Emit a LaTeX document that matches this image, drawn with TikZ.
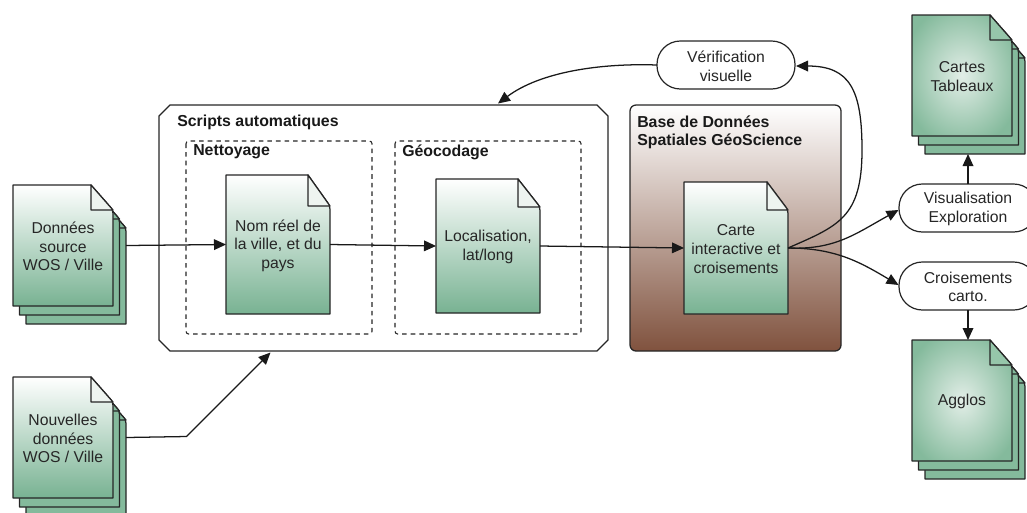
\documentclass[tikz,border=0pt]{standalone}
\usepackage{fontspec}
\setmainfont{Liberation Sans}
\usetikzlibrary{arrows.meta}
\definecolor{docgreen}{RGB}{120,178,146}
\definecolor{stackgreen}{RGB}{132,186,156}
\definecolor{foldpale}{RGB}{238,244,240}
\definecolor{foldgreen}{RGB}{150,198,170}
\definecolor{brownend}{RGB}{128,82,62}
\definecolor{inkline}{RGB}{38,38,38}
\definecolor{glowcentre}{RGB}{226,238,231}
\definecolor{glowedge}{RGB}{132,186,156}
\pgfdeclareradialshading{docglow}{\pgfpoint{0bp}{0bp}}{color(0bp)=(glowcentre); color(30bp)=(glowedge); color(50bp)=(glowedge)}
\tikzset{
  sheetline/.style={draw=inkline,line width=0.95pt,line join=round},
  sheetlinear/.style={sheetline,top color=white,bottom color=docgreen},
  sheetradial/.style={sheetline,shading=docglow},
  sheetback/.style={sheetline,fill=stackgreen},
  foldlin/.style={sheetline,fill=foldpale},
  foldrad/.style={sheetline,fill=foldgreen},
  doctext/.style={font=\fontsize{11.8pt}{13.9pt}\selectfont,text=black!85,align=center,inner sep=0pt,outer sep=0pt},
  titletext/.style={font=\bfseries\fontsize{11.9pt}{13.6pt}\selectfont,text=black!90,align=left,inner sep=0pt,anchor=west},
  pill/.style={draw=inkline,line width=0.9pt,fill=white,rounded corners=17.5pt,minimum width=103.5pt,minimum height=36pt,outer sep=0pt},
  dashbox/.style={draw=black!85,line width=0.8pt,dash pattern=on 3.4pt off 3pt,rounded corners=2pt},
  link/.style={draw=black!90,line width=0.95pt,-{Triangle[length=9pt,width=8pt]}},
}
\newcommand{\sheetat}[8]{%
  \path[#7] (#1,#2) -- (#5,#2) [rounded corners=2.5pt] -- (#3,#6) [sharp corners] -- (#3,#4) -- (#1,#4) -- cycle;
  \path[#8] (#5,#2) -- (#5,#6) -- (#3,#6) -- cycle;
}
\newcommand{\sheetnode}[6]{%
  \pgfmathsetmacro{\cxx}{(#2+#4)/2}\pgfmathsetmacro{\cyy}{(#3+#5)/2}%
  \pgfmathsetmacro{\www}{(#4-#2)*0.75}\pgfmathsetmacro{\hhh}{(#5-#3)*0.75}%
  \node[inner sep=0pt,outer sep=0pt,minimum width=\www pt,minimum height=\hhh pt] (#1) at (\cxx,\cyy) {};
  \node[doctext] (#1-text) at ([yshift=-0.8pt]#1.center) {#6};
}
\newcommand{\pillnode}[4]{%
  \node[pill] (#1) at (#2,#3) {};
  \node[doctext] (#1-text) at ([yshift=-0.8pt]#1.center) {#4};
}
\newcommand{\sheetstack}[6]{%
  \pgfmathsetmacro{\xa}{#2}\pgfmathsetmacro{\ya}{#3}%
  \pgfmathsetmacro{\xb}{#2+100}\pgfmathsetmacro{\yb}{#3+121}%
  \pgfmathsetmacro{\fx}{#2+78}\pgfmathsetmacro{\fy}{#3+25}%
  \pgfmathsetmacro{\xc}{#2+13}\pgfmathsetmacro{\yc}{#3+18}%
  \pgfmathsetmacro{\xd}{#2+113}\pgfmathsetmacro{\yd}{#3+139}%
  \pgfmathsetmacro{\xe}{#2+91}\pgfmathsetmacro{\ye}{#3+43}%
  \sheetat{\xc}{\yc}{\xd}{\yd}{\xe}{\ye}{sheetback}{sheetback}
  \pgfmathsetmacro{\xc}{#2+6.5}\pgfmathsetmacro{\yc}{#3+9}%
  \pgfmathsetmacro{\xdd}{#2+106.5}\pgfmathsetmacro{\ydd}{#3+130}%
  \pgfmathsetmacro{\xe}{#2+84.5}\pgfmathsetmacro{\ye}{#3+34}%
  \sheetat{\xc}{\yc}{\xdd}{\ydd}{\xe}{\ye}{sheetback}{sheetback}
  \sheetat{\xa}{\ya}{\xb}{\yb}{\fx}{\fy}{#5}{#6}
  \pgfmathsetmacro{\xc}{#2+13}\pgfmathsetmacro{\yc}{#3+18}%
  \sheetnode{#1-back}{\xc}{\yc}{\xd}{\yd}{}
  \sheetnode{#1}{\xa}{\ya}{\xb}{\yb}{#4}
}
\begin{document}
\begin{tikzpicture}[x=0.75pt,y=-0.75pt]
\useasboundingbox (0,0) rectangle (1027,512);
\clip (0,0) rectangle (1027,512);

% containers
\path[draw=inkline,line width=0.9pt,fill=white] (170,105) -- (597,105) -- (608,116) -- (608,340) -- (597,351) -- (170,351) -- (159,340) -- (159,116) -- cycle;
\node[inner sep=0pt,outer sep=0pt,minimum width=336.75pt,minimum height=184.5pt] (scripts) at (383.5,228) {};
\node[titletext] (scriptst) at (177,122) {Scripts automatiques};
\path[dashbox] (186,141) rectangle (372,334);
\node[titletext] (nett) at (193,152) {Nettoyage};
\path[dashbox] (395,141) rectangle (581,334);
\node[titletext] (geoc) at (402,152) {Géocodage};
\path[draw=inkline,line width=0.95pt,rounded corners=4.5pt,top color=white,bottom color=brownend] (630,105) rectangle (841,351);
\node[titletext] (baset) at (637,132.5) {Base de Données\\Spatiales GéoScience};

% documents
\sheetat{226}{175}{330}{314}{308}{206}{sheetlinear}{foldlin}
\sheetnode{nom}{226}{175}{330}{314}{Nom réel de\\la ville, et du\\pays}
\sheetat{436}{179}{540}{313}{518}{207}{sheetlinear}{foldlin}
\sheetnode{loc}{436}{179}{540}{313}{Localisation,\\lat/long}
\sheetat{684}{182}{788}{314}{767}{210}{sheetlinear}{foldlin}
\sheetnode{carte}{684}{182}{788}{314}{Carte\\interactive et\\croisements}

% stacks
\sheetstack{source}{13}{185}{Données\\source\\WOS / Ville}{sheetlinear}{foldlin}
\sheetstack{nouv}{13}{377}{Nouvelles\\données\\WOS / Ville}{sheetlinear}{foldlin}
\sheetstack{cartes}{912}{15}{Cartes\\Tableaux}{sheetradial}{foldrad}
\sheetstack{agglos}{912}{340}{Agglos}{sheetradial}{foldrad}

% pills
\pillnode{verif}{726}{65}{Vérification\\visuelle}
\pillnode{visu}{968}{208}{Visualisation\\Exploration}
\pillnode{crois}{968}{286}{Croisements\\carto.}

% connectors
\coordinate (scriptsin) at (270.5,352.5);
\coordinate (scriptstop) at (498,103.5);
\coordinate (bendnew) at (186.5,436.5);
\coordinate (verifin) at (796,66);
\coordinate (visuin) at (898.5,210);
\coordinate (croisin) at (898.5,285);
\draw[link] (source.east -| source-back.east) -- (nom.west);
\draw[link] (nom.east) -- (loc.west);
\draw[link] (loc.east) -- (carte.west);
\draw[link] (nouv.east -| nouv-back.east) -- (bendnew) -- (scriptsin);
\draw[link] (verif.west) .. controls (600,63) and (540,72) .. (scriptstop);
\draw[link] (carte.east) .. controls (838,226) and (862,218) .. (862,150) .. controls (862,90) and (850,66) .. (verifin);
\draw[link] (carte.east) .. controls (835,250) and (855,234) .. (visuin);
\draw[link] (carte.east) .. controls (835,248) and (860,262) .. (croisin);
\draw[link] (visu.north) -- (visu.north |- cartes-back.south);
\draw[link] (crois.south) -- (crois.south |- agglos.north);
\end{tikzpicture}
\end{document}
